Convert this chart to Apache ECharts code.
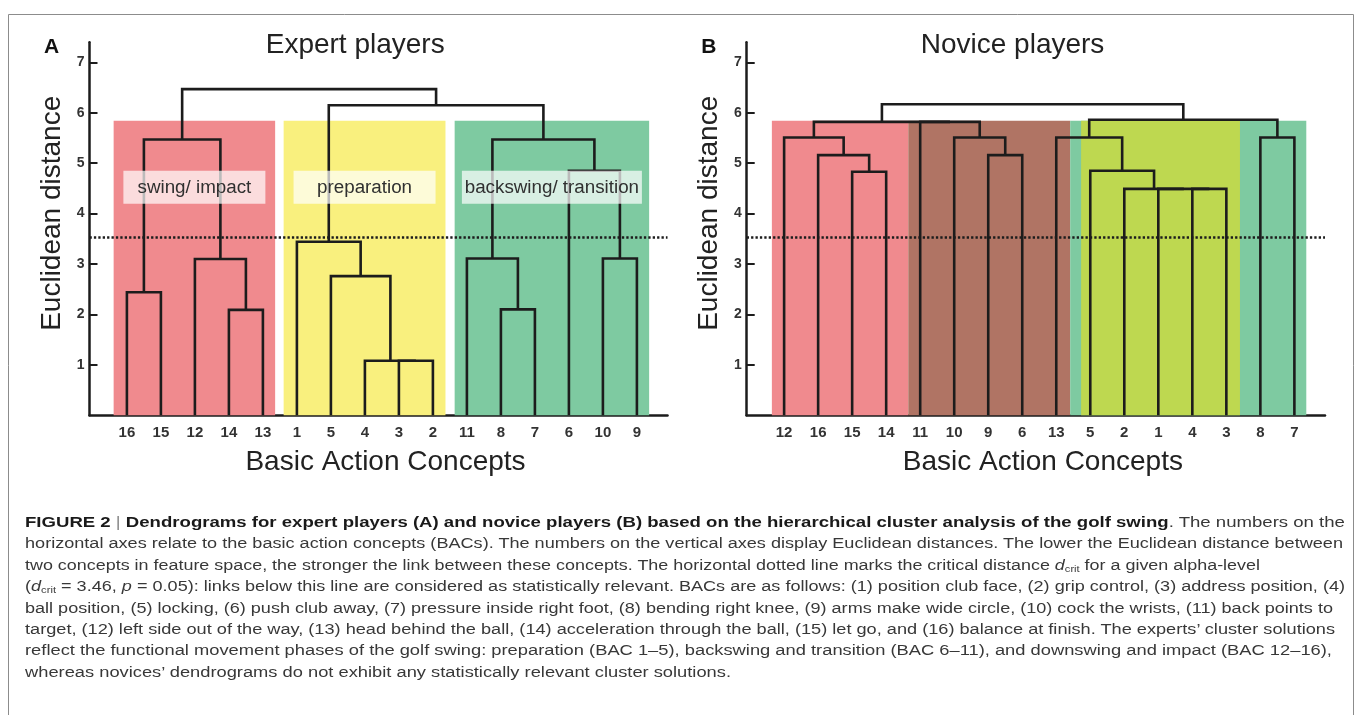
<!DOCTYPE html>
<html>
<head>
<meta charset="utf-8">
<script src="https://cdn.jsdelivr.net/npm/echarts@6/dist/echarts.min.js"></script>
<style>
html,body{margin:0;padding:0;background:#fff;}
#chart{position:absolute;left:0;top:0;width:1357px;height:715px;}
#caption{position:absolute;left:0;top:0;width:1357px;height:715px;pointer-events:none;
  font-family:'Liberation Sans',Arial,Helvetica,sans-serif;color:#383838;}
.cl{position:absolute;left:25px;white-space:nowrap;font-size:15.3px;line-height:15.3px;transform-origin:0 0;}
.cl b{color:#1a1a1a;}
.cl .bar{color:#8a8a8a;font-weight:normal;}
.cl sub{font-size:0.62em;vertical-align:-0.2em;line-height:0;}
</style>
</head>
<body>
<div id="chart"></div>
<div id="caption"></div>
<script>
// ---------------- DATA ----------------
// Panel A: expert players
const expertLeaves = ['16','15','12','14','13','1','5','4','3','2','11','8','7','6','10','9'];
// merges: [child, child, height]; children are leaf labels or node ids "n<k>" (k = merge index)
const expertMerges = [
  ['16','15',2.44],   // n0
  ['14','13',2.09],   // n1
  ['12','n1',3.10],   // n2
  ['n0','n2',5.47],   // n3  swing/impact
  ['3','2',1.08],     // n4
  ['4','n4',1.08],    // n5
  ['5','n5',2.76],    // n6
  ['1','n6',3.44],    // n7  preparation
  ['8','7',2.10],     // n8
  ['11','n8',3.11],   // n9
  ['10','9',3.11],    // n10
  ['6','n10',4.85],   // n11
  ['n9','n11',5.47],  // n12 backswing/transition
  ['n7','n12',6.15],  // n13
  ['n3','n13',6.47]   // n14 root
];
const expertClusters = [[0,4],[5,9],[10,15]];
const expertClusterNames = ['swing/ impact','preparation','backswing/ transition'];

// Panel B: novice players
const noviceLeaves = ['12','16','15','14','11','10','9','6','13','5','2','1','4','3','8','7'];
const noviceMerges = [
  ['15','14',4.83],   // n0
  ['16','n0',5.16],   // n1
  ['12','n1',5.51],   // n2
  ['9','6',5.16],     // n3
  ['10','n3',5.51],   // n4
  ['11','n4',5.82],   // n5
  ['n2','n5',5.82],   // n6
  ['4','3',4.49],     // n7
  ['1','n7',4.49],    // n8
  ['2','n8',4.49],    // n9
  ['5','n9',4.85],    // n10
  ['13','n10',5.51],  // n11
  ['8','7',5.51],     // n12
  ['n11','n12',5.86], // n13
  ['n6','n13',6.17]   // n14 root
];
const noviceClusters = [[0,3],[4,8],[9,15],[9,13]];

const yTickValues = [1,2,3,4,5,6,7];
const criticalDistance = 3.53;

const panelTitles = ['Expert players','Novice players'];
const panelLetters = ['A','B'];
const xAxisTitle = 'Basic Action Concepts';
const yAxisTitle = 'Euclidean distance';

const captionLines = [
  '<b>FIGURE 2</b> <span class="bar">|</span> <b>Dendrograms for expert players (A) and novice players (B) based on the hierarchical cluster analysis of the golf swing</b>. The numbers on the',
  'horizontal axes relate to the basic action concepts (BACs). The numbers on the vertical axes display Euclidean distances. The lower the Euclidean distance between',
  'two concepts in feature space, the stronger the link between these concepts. The horizontal dotted line marks the critical distance <i>d</i><sub>crit</sub> for a given alpha-level',
  '(<i>d</i><sub>crit</sub> = 3.46, <i>p</i> = 0.05): links below this line are considered as statistically relevant. BACs are as follows: (1) position club face, (2) grip control, (3) address position, (4)',
  'ball position, (5) locking, (6) push club away, (7) pressure inside right foot, (8) bending right knee, (9) arms make wide circle, (10) cock the wrists, (11) back points to',
  'target, (12) left side out of the way, (13) head behind the ball, (14) acceleration through the ball, (15) let go, and (16) balance at finish. The experts\u2019 cluster solutions',
  'reflect the functional movement phases of the golf swing: preparation (BAC 1\u20135), backswing and transition (BAC 6\u201311), and downswing and impact (BAC 12\u201316),',
  'whereas novices\u2019 dendrograms do not exhibit any statistically relevant cluster solutions.'
];

// ---------------- STYLE / LAYOUT ----------------
const FONT = "'Liberation Sans', Arial, Helvetica, sans-serif";
const INK = '#1c1c1c';
const LINK_W = 2.6;
const X_MIN = -1.1, X_MAX = 15.9, Y_MAX = 7.4;
const BAND_TOP = 5.84;
const grids = [
  {left: 89.5, top: 42.2, width: 578, height: 373},
  {left: 746.7, top: 42.2, width: 578.3, height: 373}
];
const bandStyles = [
  {colors: ['#F08A8E','#F9F07E','#7ECAA1'], pads: [[0.39,0.36],[0.39,0.37],[0.36,0.36]]},
  {colors: ['#F08A8E','#B07464','#7ECAA1','#BED850'], pads: [[0.36,0.65],[0.35,0.41],[0.59,0.35],[0.27,0.40]]}
];
const BOX_W = [142, 142, 180], BOX_H = 33, BOX_VALUE_Y = 4.52;

// ---------------- BUILD ----------------
function buildLinks(leaves, merges) {
  const pos = {};
  leaves.forEach((l, i) => { pos[l] = {x: i, h: 0}; });
  const links = [];
  merges.forEach((m, k) => {
    const a = pos[m[0]], b = pos[m[1]], h = m[2];
    links.push([a.x, a.h, b.x, b.h, h]);
    pos['n' + k] = {x: (a.x + b.x) / 2, h: h};
  });
  return links;
}
function buildBands(clusters, style) {
  return clusters.map((c, i) => [c[0] - style.pads[i][0], c[1] + style.pads[i][1], BAND_TOP, i]);
}

const panels = [
  {leaves: expertLeaves, links: buildLinks(expertLeaves, expertMerges), bands: buildBands(expertClusters, bandStyles[0]), style: bandStyles[0]},
  {leaves: noviceLeaves, links: buildLinks(noviceLeaves, noviceMerges), bands: buildBands(noviceClusters, bandStyles[1]), style: bandStyles[1]}
];

const option = {
  animation: false,
  textStyle: {fontFamily: FONT},
  grid: grids.map(g => Object.assign({containLabel: false}, g)),
  xAxis: panels.map((p, i) => ({
    type: 'value', gridIndex: i, min: X_MIN, max: X_MAX,
    axisLine: {show: true, onZero: false, lineStyle: {color: INK, width: 2.5}},
    axisTick: {show: false},
    splitLine: {show: false},
    axisLabel: {
      customValues: p.leaves.map((_, k) => k),
      formatter: v => p.leaves[Math.round(v)],
      fontSize: 15, fontWeight: 'bold', color: '#333', margin: 10, fontFamily: FONT
    }
  })),
  yAxis: panels.map((p, i) => ({
    type: 'value', gridIndex: i, min: 0, max: Y_MAX,
    axisLine: {show: true, onZero: false, lineStyle: {color: INK, width: 2.5}},
    axisTick: {show: true, inside: true, length: 8, customValues: yTickValues, lineStyle: {color: INK, width: 2}},
    splitLine: {show: false},
    axisLabel: {customValues: yTickValues, fontSize: 14, fontWeight: 'bold', color: '#333', margin: 5, fontFamily: FONT}
  })),
  series: [],
  graphic: []
};

panels.forEach((p, i) => {
  // cluster background bands
  option.series.push({
    type: 'custom', xAxisIndex: i, yAxisIndex: i, z: 1, silent: true, clip: false,
    encode: {x: [0, 1], y: 2},
    data: p.bands,
    renderItem: (params, api) => {
      const tl = api.coord([api.value(0), api.value(2)]);
      const br = api.coord([api.value(1), 0]);
      return {type: 'rect', shape: {x: tl[0], y: tl[1], width: br[0] - tl[0], height: br[1] - tl[1]},
              style: {fill: p.style.colors[api.value(3)]}};
    }
  });
  // dendrogram links
  option.series.push({
    type: 'custom', xAxisIndex: i, yAxisIndex: i, z: 3, silent: true, clip: false,
    encode: {x: [0, 2], y: [1, 3, 4]},
    data: p.links,
    renderItem: (params, api) => {
      const x1 = api.value(0), h1 = api.value(1), x2 = api.value(2), h2 = api.value(3), h = api.value(4);
      return {type: 'polyline',
              shape: {points: [api.coord([x1, h1]), api.coord([x1, h]), api.coord([x2, h]), api.coord([x2, h2])]},
              style: {stroke: INK, lineWidth: LINK_W, fill: 'none', lineJoin: 'miter', lineCap: 'butt'}};
    },
    markLine: {
      silent: true, symbol: ['none', 'none'], label: {show: false},
      lineStyle: {color: INK, width: 2.5, type: [2.3, 2.1], cap: 'butt'},
      emphasis: {disabled: true},
      data: [{yAxis: criticalDistance}]
    }
  });
});

// phase label boxes (expert panel)
option.series.push({
  type: 'custom', xAxisIndex: 0, yAxisIndex: 0, z: 5, silent: true, clip: false,
  encode: {x: 0, y: 1},
  data: panels[0].bands.map(b => [(b[0] + b[1]) / 2, BOX_VALUE_Y]),
  renderItem: (params, api) => {
    const c = api.coord([api.value(0), api.value(1)]);
    const w = BOX_W[params.dataIndex];
    return {type: 'group', children: [
      {type: 'rect', shape: {x: c[0] - w / 2, y: c[1] - BOX_H / 2, width: w, height: BOX_H},
       style: {fill: 'rgba(255,255,255,0.7)'}},
      {type: 'text', x: c[0], y: c[1],
       style: {text: expertClusterNames[params.dataIndex], fontSize: 18.8, fontFamily: FONT,
               fill: '#303030', align: 'center', verticalAlign: 'middle'}}
    ]};
  }
});

// frame, titles, panel letters, axis names
option.graphic.push({type: 'rect', silent: true, z: 0,
  shape: {x: 8.5, y: 14.5, width: 1345, height: 760},
  style: {fill: 'none', stroke: '#8c8c8c', lineWidth: 1}});
grids.forEach((g, i) => {
  const cx = g.left + g.width / 2;
  option.graphic.push(
    {type: 'text', silent: true, x: g.left - 45.5, y: 47.7,
     style: {text: panelLetters[i], fontSize: 21, fontWeight: 'bold', fontFamily: FONT, fill: '#111', align: 'left', verticalAlign: 'middle'}},
    {type: 'text', silent: true, x: cx - 23.3, y: 45.3,
     style: {text: panelTitles[i], fontSize: 28, fontFamily: FONT, fill: '#222', align: 'center', verticalAlign: 'middle'}},
    {type: 'text', silent: true, x: cx + 7, y: 462.3,
     style: {text: xAxisTitle, fontSize: 28, fontFamily: FONT, fill: '#222', align: 'center', verticalAlign: 'middle'}},
    {type: 'text', silent: true, x: g.left - 37.2, y: 213.3, rotation: Math.PI / 2,
     style: {text: yAxisTitle, fontSize: 28, fontFamily: FONT, fill: '#222', align: 'center', verticalAlign: 'middle'}}
  );
});

const chart = echarts.init(document.getElementById('chart'), null, {renderer: 'canvas'});
chart.setOption(option);

// ---------------- CAPTION ----------------
const CAP_LEFT = 25, CAP_BASE0 = 527, CAP_STEP = 21.4, CAP_ASC = 12.95;
const lineEnds = [1345, 1343, 1260, 1345, 1333, 1335, 1332, 731];
const cap = document.getElementById('caption');
const divs = captionLines.map((html, k) => {
  const d = document.createElement('div');
  d.className = 'cl';
  d.innerHTML = html;
  d.style.top = (CAP_BASE0 + k * CAP_STEP - CAP_ASC) + 'px';
  cap.appendChild(d);
  return d;
});
function fitCaption() {
  divs.forEach((d, k) => {
    d.style.transform = 'none';
    const w = d.getBoundingClientRect().width;
    const s = (lineEnds[k] - CAP_LEFT) / w;
    d.style.transform = 'scaleX(' + s.toFixed(4) + ')';
  });
}
fitCaption();
if (document.fonts && document.fonts.ready) document.fonts.ready.then(fitCaption);
</script>
</body>
</html>
